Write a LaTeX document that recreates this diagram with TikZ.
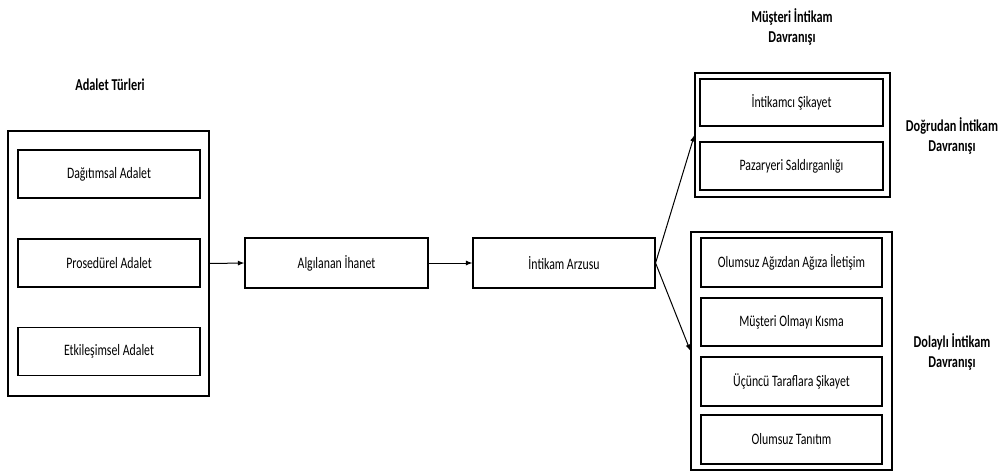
\documentclass[tikz,border=0pt]{standalone}
\usepackage{fontspec}
\setmainfont{Carlito}
\usepackage{graphicx}
\usetikzlibrary{arrows.meta}
\newcommand{\vs}[1]{\scalebox{1}[1.35]{#1}}
\begin{document}
\begin{tikzpicture}[x=1pt,y=-1pt,
  box/.style={draw, line width=1.1pt, inner sep=0pt, font=\fontsize{11.8}{15}\selectfont},
  outer/.style={draw, line width=1.1pt, inner sep=0pt},
  lbl/.style={font=\bfseries\fontsize{12.3}{20}\selectfont, align=center, inner sep=0pt},
  arr/.style={line width=1pt, -{Latex[length=6.5pt,width=5pt]}}]
\useasboundingbox (0,0) rectangle (1004,474);
% left group
\node[outer, minimum width=201pt, minimum height=265pt] (L) at (108.5,263.5) {};
\node[box, minimum width=182pt, minimum height=48pt] (d) at (109,174) {\vs{Dağıtımsal Adalet}};
\node[box, minimum width=182pt, minimum height=48pt] (p) at (109,263) {\vs{Prosedürel Adalet}};
\node[box, minimum width=182pt, minimum height=48pt] (e) at (109,351.5) {\vs{Etkileşimsel Adalet}};
\node[lbl] (lt) at (110,85) {\vs{Adalet Türleri}};
% middle
\node[box, minimum width=183pt, minimum height=50pt] (a) at (336.5,263) {\vs{Algılanan İhanet}};
\node[box, minimum width=182pt, minimum height=50pt] (i) at (564,263) {\vs{İntikam Arzusu}};
% upper right
\node[outer, minimum width=195pt, minimum height=124pt] (U) at (792.5,135) {};
\node[box, minimum width=183pt, minimum height=47pt] (is) at (791.5,102.5) {\vs{İntikamcı Şikayet}};
\node[box, minimum width=183pt, minimum height=48pt] (ps) at (791.5,166) {\vs{Pazaryeri Saldırganlığı}};
% lower right
\node[outer, minimum width=201pt, minimum height=238pt] (D) at (791.5,351) {};
\node[box, minimum width=181pt, minimum height=49pt] (oa) at (791.5,262.5) {\vs{Olumsuz Ağızdan Ağıza İletişim}};
\node[box, minimum width=181pt, minimum height=48pt] (mo) at (791.5,322) {\vs{Müşteri Olmayı Kısma}};
\node[box, minimum width=181pt, minimum height=49pt] (ut) at (791.5,381.5) {\vs{Üçüncü Taraflara Şikayet}};
\node[box, minimum width=181pt, minimum height=49pt] (ot) at (791.5,439.5) {\vs{Olumsuz Tanıtım}};
% labels
\node[lbl] (mt) at (792,27) {\vs{Müşteri İntikam}\\\vs{Davranışı}};
\node[lbl] (dg) at (952,136) {\vs{Doğrudan İntikam}\\\vs{Davranışı}};
\node[lbl] (dl) at (952,352) {\vs{Dolaylı İntikam}\\\vs{Davranışı}};
% arrows
\draw[arr] (L.east) -- (a.west);
\draw[arr] (a.east) -- (i.west);
\draw[arr] (i.east) -- (U.west);
\draw[arr] (i.east) -- (D.west);
\end{tikzpicture}
\end{document}
